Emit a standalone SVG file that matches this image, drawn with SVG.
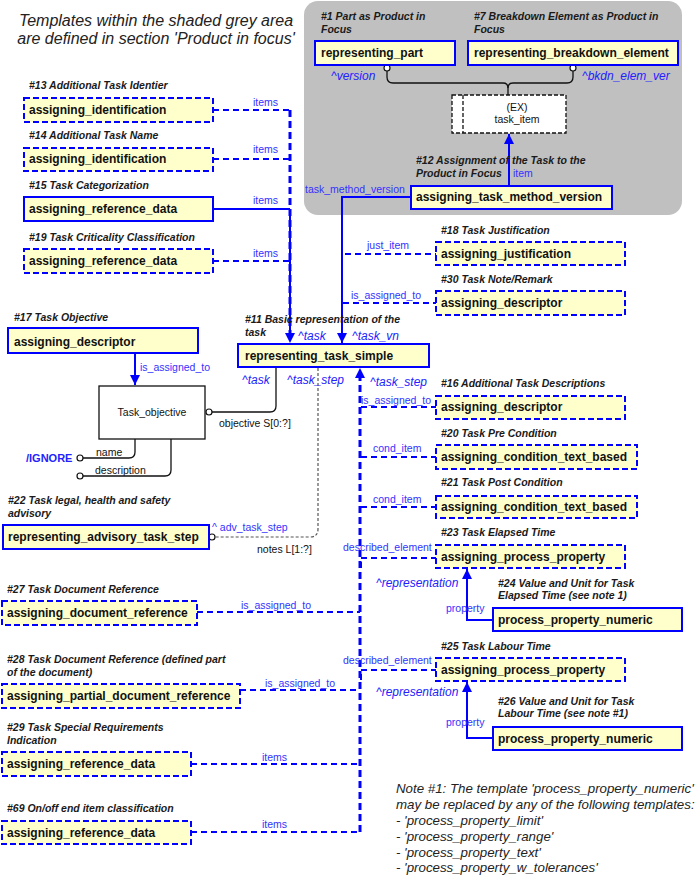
<svg xmlns="http://www.w3.org/2000/svg" width="699" height="876" viewBox="0 0 699 876">
<defs>
<style>
.lbl{font-family:"Liberation Sans",Arial,sans-serif;font-style:italic;font-weight:bold;font-size:10.5px;fill:#1a1a1a}
.nt{font-family:"Liberation Sans",Arial,sans-serif;font-weight:bold;font-size:12px;fill:#111}
.rl{font-family:"Liberation Sans",Arial,sans-serif;font-size:10.5px;fill:#3333ff}
.ro{font-family:"Liberation Sans",Arial,sans-serif;font-style:italic;font-size:12px;fill:#2222ff}
.bk{font-family:"Liberation Sans",Arial,sans-serif;font-size:10.5px;fill:#111}
.note{font-family:"Liberation Sans",Arial,sans-serif;font-style:italic;font-size:13.3px;fill:#222}
.box{fill:#ffffcc;stroke:#0000ff;stroke-width:2}
.dbox{fill:#ffffcc;stroke:#0000ff;stroke-width:2;stroke-dasharray:6 3}
.sl{fill:none;stroke:#0000ff;stroke-width:2}
.dl{fill:none;stroke:#0000ff;stroke-width:2;stroke-dasharray:6 4}
.tl{fill:none;stroke:#0000ff;stroke-width:3;stroke-dasharray:7 4}
.kl{fill:none;stroke:#111;stroke-width:1.3}
.circ{fill:#fff;stroke:#111;stroke-width:1.2}
</style>
<marker id="ah" viewBox="0 0 10 10" refX="10" refY="5" markerWidth="10" markerHeight="10" markerUnits="userSpaceOnUse" orient="auto">
<path d="M0,0 L10,5 L0,10 z" fill="#0000ff"/>
</marker>
</defs>
<rect width="699" height="876" fill="#fff"/>

<!-- grey area -->
<rect x="304" y="1" width="378" height="214" rx="14" fill="#c0c0c0"/>
<text x="156" y="25.5" text-anchor="middle" class="note" style="font-size:16px">Templates within the shaded grey area</text>
<text x="156" y="43.5" text-anchor="middle" class="note" style="font-size:16px">are defined in section 'Product in focus'</text>

<!-- connectors -->
<g id="connectors">
<!-- top black -->
<path class="kl" d="M387,71 V77 Q387,83 393,83 H503 Q508,83 508,88 V95"/>
<path class="kl" d="M573,71 V77 Q573,83 567,83 H513 Q508,83 508,88"/>
<circle class="circ" cx="387" cy="68" r="3"/>
<circle class="circ" cx="573" cy="68" r="3"/>
<path class="sl" d="M509,186 V134" marker-end="url(#ah)"/>
<path class="sl" d="M411,197 H342 V343" marker-end="url(#ah)"/>
<!-- left items -->
<path class="dl" d="M213,110 H290"/>
<path class="dl" d="M213,159 H290"/>
<path class="sl" d="M213,209 H290"/>
<path class="dl" d="M213,261 H290"/>
<path class="sl" d="M290,209 V335"/>
<path class="tl" d="M290,110 V333"/>
<path d="M290,343 l-5,-10 h10 z" fill="#0000ff"/>
<!-- right top -->
<path class="dl" d="M345,254 H436"/>
<path class="dl" d="M343,303 H436"/>
<!-- objective -->
<path class="sl" d="M135,353 V385" marker-end="url(#ah)"/>
<path class="kl" d="M212,412 H270 Q276,412 276,406 V368"/>
<circle class="circ" cx="209" cy="412" r="3"/>
<path class="kl" d="M83,458 H129 Q135,458 135,452 V439"/>
<path class="kl" d="M83,476 H165 Q171,476 171,470 V439"/>
<circle class="circ" cx="80" cy="458" r="3"/>
<circle class="circ" cx="80" cy="476" r="3"/>
<!-- notes -->
<path d="M318,368 V529 Q318,537 310,537 H215" fill="none" stroke="#555" stroke-width="1.2" stroke-dasharray="3 2"/>
<circle class="circ" cx="212" cy="537" r="3"/>
<!-- right main vertical -->
<path class="tl" d="M360,832 V378"/>
<path d="M360,368 l-5,10 h10 z" fill="#0000ff"/>
<path class="dl" d="M361,407 H436"/>
<path class="dl" d="M361,457 H436"/>
<path class="dl" d="M361,507 H436"/>
<path class="dl" d="M361,568 V558 H436"/>
<path class="dl" d="M361,680 V670 H436"/>
<path class="dl" d="M197,612 H360"/>
<path class="dl" d="M240,690 H360"/>
<path class="dl" d="M191,764 H360"/>
<path class="dl" d="M191,832 H360"/>
<!-- property arrows -->
<path class="sl" d="M493,620 H467 V569" marker-end="url(#ah)"/>
<path class="sl" d="M493,738 H467 V682" marker-end="url(#ah)"/>

<!-- connector labels -->
<text class="ro" x="331" y="80">^version</text>
<text class="ro" x="582" y="80">^bkdn_elem_ver</text>
<text class="rl" x="513" y="177">item</text>
<text class="rl" x="305" y="193">task_method_version</text>
<text class="rl" x="253" y="106">items</text>
<text class="rl" x="253" y="153">items</text>
<text class="rl" x="253" y="204">items</text>
<text class="rl" x="253" y="257">items</text>
<text class="rl" x="367" y="249">just_item</text>
<text class="rl" x="351" y="299">is_assigned_to</text>
<text class="ro" x="298" y="340">^task</text>
<text class="ro" x="352" y="340">^task_vn</text>
<text class="ro" x="242" y="384">^task</text>
<text class="ro" x="287" y="384">^task_step</text>
<text class="ro" x="370" y="386">^task_step</text>
<text class="rl" x="140" y="371">is_assigned_to</text>
<text class="bk" x="219" y="427">objective S[0:?]</text>
<text x="26" y="462" style="font-family:'Liberation Sans',Arial,sans-serif;font-weight:bold;font-size:11px;fill:#2222ff">/IGNORE</text>
<text class="bk" x="96" y="456">name</text>
<text class="bk" x="95" y="474">description</text>
<text class="rl" x="212" y="531">^ adv_task_step</text>
<text class="bk" x="257" y="553">notes L[1:?]</text>
<text class="rl" x="361" y="404">is_assigned_to</text>
<text class="rl" x="373" y="452">cond_item</text>
<text class="rl" x="373" y="503">cond_item</text>
<text class="rl" x="343" y="551">described_element</text>
<text class="ro" x="376" y="587">^representation</text>
<text class="rl" x="446" y="612">property</text>
<text class="rl" x="343" y="664">described_element</text>
<text class="ro" x="376" y="696">^representation</text>
<text class="rl" x="446" y="726">property</text>
<text class="rl" x="241" y="609">is_assigned_to</text>
<text class="rl" x="265" y="687">is_assigned_to</text>
<text class="rl" x="262" y="761">items</text>
<text class="rl" x="262" y="828">items</text>
</g>

<!-- nodes -->
<g id="n1">
<text class="lbl" x="321" y="20">#1 Part as Product in</text>
<text class="lbl" x="321" y="33">Focus</text>
<rect class="box" x="315" y="41" width="140" height="24"/>
<text class="nt" x="321" y="57">representing_part</text>
</g>
<g id="n7">
<text class="lbl" x="474" y="20">#7 Breakdown Element as Product in</text>
<text class="lbl" x="474" y="33">Focus</text>
<rect class="box" x="468" y="41" width="210" height="24"/>
<text class="nt" x="474" y="57">representing_breakdown_element</text>
</g>
<g id="task_item">
<rect x="452" y="95" width="114" height="38" fill="#fff" stroke="#111" stroke-width="1.3" stroke-dasharray="4 2"/>
<line x1="463" y1="95" x2="463" y2="133" stroke="#111" stroke-width="1.3" stroke-dasharray="4 2"/>
<text class="bk" x="517" y="111" text-anchor="middle">(EX)</text>
<text class="bk" x="517" y="123" text-anchor="middle">task_item</text>
</g>
<g id="n12">
<text class="lbl" x="416" y="164">#12 Assignment of the Task to the</text>
<text class="lbl" x="416" y="177">Product in Focus</text>
<rect class="box" x="411" y="186" width="201" height="23"/>
<text class="nt" x="416" y="201">assigning_task_method_version</text>
</g>
<g id="n13">
<text class="lbl" x="29" y="89">#13 Additional Task Identier</text>
<rect class="dbox" x="24" y="98" width="189" height="24"/>
<text class="nt" x="29" y="114">assigning_identification</text>
</g>
<g id="n14">
<text class="lbl" x="29" y="139">#14 Additional Task Name</text>
<rect class="dbox" x="24" y="148" width="189" height="23"/>
<text class="nt" x="29" y="163">assigning_identification</text>
</g>
<g id="n15">
<text class="lbl" x="29" y="189">#15 Task Categorization</text>
<rect class="box" x="24" y="197" width="189" height="24"/>
<text class="nt" x="29" y="213">assigning_reference_data</text>
</g>
<g id="n19">
<text class="lbl" x="29" y="241">#19 Task Criticality Classification</text>
<rect class="dbox" x="24" y="249" width="189" height="24"/>
<text class="nt" x="29" y="265">assigning_reference_data</text>
</g>
<g id="n18">
<text class="lbl" x="441" y="234">#18 Task Justification</text>
<rect class="dbox" x="436" y="242" width="189" height="23"/>
<text class="nt" x="441" y="258">assigning_justification</text>
</g>
<g id="n30">
<text class="lbl" x="441" y="283">#30 Task Note/Remark</text>
<rect class="dbox" x="436" y="291" width="189" height="24"/>
<text class="nt" x="441" y="307">assigning_descriptor</text>
</g>
<g id="n11">
<text class="lbl" x="245" y="323">#11 Basic representation of the</text>
<text class="lbl" x="245" y="336">task</text>
<rect class="box" x="238" y="344" width="191" height="23"/>
<text class="nt" x="245" y="360">representing_task_simple</text>
</g>
<g id="n17">
<text class="lbl" x="14" y="321">#17 Task Objective</text>
<rect class="box" x="8" y="328" width="190" height="25"/>
<text class="nt" x="14" y="346">assigning_descriptor</text>
</g>
<g id="task_objective">
<rect x="99" y="386" width="106" height="53" fill="#fff" stroke="#111" stroke-width="1.3"/>
<text class="bk" x="152" y="416" text-anchor="middle">Task_objective</text>
</g>
<g id="n16">
<text class="lbl" x="441" y="387">#16 Additional Task Descriptions</text>
<rect class="dbox" x="436" y="396" width="189" height="23"/>
<text class="nt" x="441" y="411">assigning_descriptor</text>
</g>
<g id="n20">
<text class="lbl" x="441" y="437">#20 Task Pre Condition</text>
<rect class="dbox" x="436" y="445" width="201" height="24"/>
<text class="nt" x="441" y="461">assigning_condition_text_based</text>
</g>
<g id="n21">
<text class="lbl" x="441" y="486">#21 Task Post Condition</text>
<rect class="dbox" x="436" y="496" width="201" height="22"/>
<text class="nt" x="441" y="511">assigning_condition_text_based</text>
</g>
<g id="n22">
<text class="lbl" x="8" y="504">#22 Task legal, health and safety</text>
<text class="lbl" x="8" y="517">advisory</text>
<rect class="box" x="3" y="525" width="206" height="24"/>
<text class="nt" x="8" y="541">representing_advisory_task_step</text>
</g>
<g id="n23">
<text class="lbl" x="441" y="536">#23 Task Elapsed Time</text>
<rect class="dbox" x="436" y="545" width="189" height="23"/>
<text class="nt" x="441" y="561">assigning_process_property</text>
</g>
<g id="n24">
<text class="lbl" x="498" y="587">#24 Value and Unit for Task</text>
<text class="lbl" x="498" y="599">Elapsed Time (see note 1)</text>
<rect class="box" x="493" y="608" width="189" height="23"/>
<text class="nt" x="498" y="624">process_property_numeric</text>
</g>
<g id="n27">
<text class="lbl" x="7" y="593">#27 Task Document Reference</text>
<rect class="dbox" x="2" y="601" width="195" height="24"/>
<text class="nt" x="7" y="617">assigning_document_reference</text>
</g>
<g id="n25">
<text class="lbl" x="441" y="650">#25 Task Labour Time</text>
<rect class="dbox" x="436" y="658" width="189" height="23"/>
<text class="nt" x="441" y="674">assigning_process_property</text>
</g>
<g id="n28">
<text class="lbl" x="7" y="663">#28 Task Document Reference (defined part</text>
<text class="lbl" x="7" y="676">of the document)</text>
<rect class="dbox" x="2" y="684" width="238" height="24"/>
<text class="nt" x="7" y="700">assigning_partial_document_reference</text>
</g>
<g id="n26">
<text class="lbl" x="498" y="705">#26 Value and Unit for Task</text>
<text class="lbl" x="498" y="717">Labour Time (see note #1)</text>
<rect class="box" x="493" y="727" width="189" height="23"/>
<text class="nt" x="498" y="743">process_property_numeric</text>
</g>
<g id="n29">
<text class="lbl" x="7" y="731">#29 Task Special Requirements</text>
<text class="lbl" x="7" y="744">Indication</text>
<rect class="dbox" x="2" y="752" width="189" height="24"/>
<text class="nt" x="7" y="768">assigning_reference_data</text>
</g>
<g id="n69">
<text class="lbl" x="7" y="812">#69 On/off end item classification</text>
<rect class="dbox" x="2" y="821" width="189" height="23"/>
<text class="nt" x="7" y="837">assigning_reference_data</text>
</g>
<g id="note">
<text class="note" x="396" y="793">Note #1: The template 'process_property_numeric'</text>
<text class="note" x="396" y="809">may be replaced by any of the following templates:</text>
<text class="note" x="396" y="825">- 'process_property_limit'</text>
<text class="note" x="396" y="841">- 'process_property_range'</text>
<text class="note" x="396" y="857">- 'process_property_text'</text>
<text class="note" x="396" y="872">- 'process_property_w_tolerances'</text>
</g>
</svg>
